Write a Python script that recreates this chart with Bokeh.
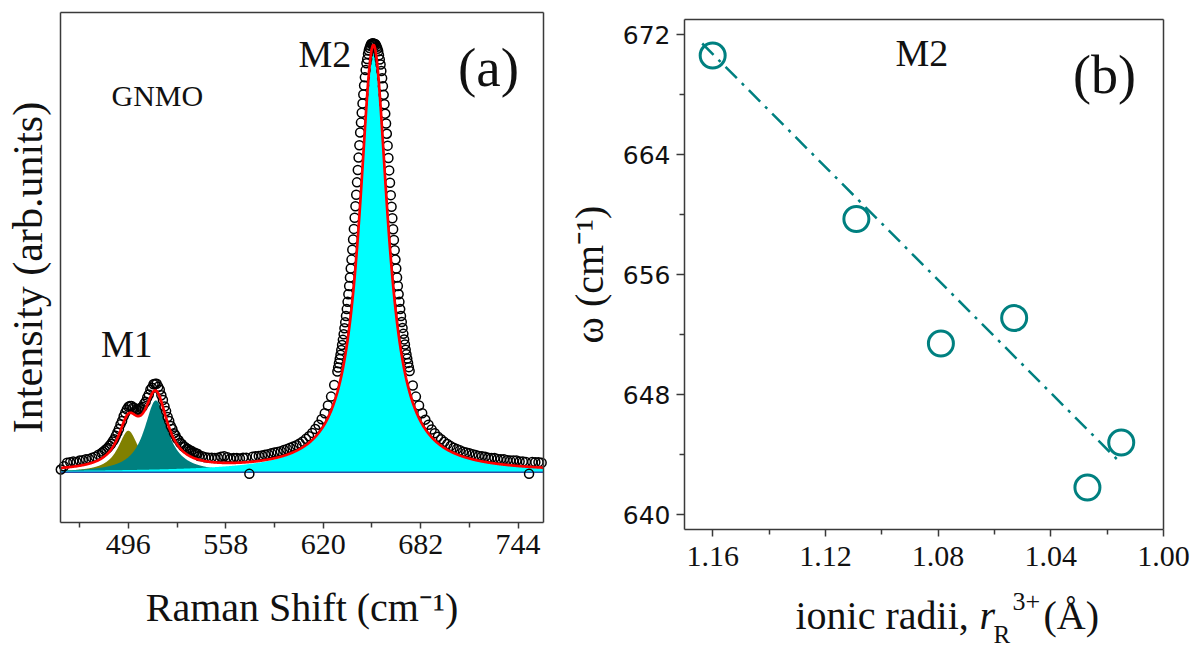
import numpy as np
from bokeh.plotting import figure
from bokeh.models import Range1d, FixedTicker, Label, PrintfTickFormatter, LinearAxis
from bokeh.embed import file_html
from bokeh.resources import INLINE

# ---------------- Panel (a): Raman spectrum of GNMO ----------------
# measured intensities (arb. units), read off the picture region by region
shift_a = np.arange(453, 480, 2)
int_a = [0.006, 0.014, 0.022, 0.023, 0.025, 0.024, 0.027, 0.028, 0.030, 0.031,
         0.034, 0.036, 0.041, 0.045]

shift_b = np.arange(480, 541, 1)
int_b = [0.048, 0.051, 0.054, 0.057, 0.062, 0.066, 0.072, 0.077, 0.085, 0.093,
         0.101, 0.112, 0.120, 0.131, 0.139, 0.147, 0.153, 0.155, 0.155, 0.151,
         0.150, 0.147, 0.146, 0.148, 0.151, 0.153, 0.160, 0.165, 0.175, 0.182,
         0.193, 0.198, 0.206, 0.207, 0.207, 0.200, 0.193, 0.180, 0.169, 0.154,
         0.143, 0.129, 0.120, 0.108, 0.101, 0.091, 0.086, 0.078, 0.075, 0.068,
         0.066, 0.060, 0.059, 0.054, 0.054, 0.050, 0.050, 0.046, 0.046, 0.043,
         0.043]

shift_c = np.arange(541, 628, 2)
int_c = [0.038, 0.037, 0.035, 0.034, 0.034, 0.033, 0.034, 0.036, 0.037, 0.035,
         0.032, 0.033, 0.033, 0.032, 0.034, 0.034, -0.004, 0.036, 0.037, 0.038,
         0.039, 0.041, 0.042, 0.044, 0.046, 0.047, 0.049, 0.052, 0.054, 0.057,
         0.060, 0.063, 0.067, 0.072, 0.078, 0.084, 0.092, 0.101, 0.111, 0.124,
         0.138, 0.156, 0.177, 0.204]

shift_d = np.arange(629, 675.5, 0.5)
int_d = [0.236, 0.245, 0.255, 0.265, 0.275, 0.286, 0.298, 0.310, 0.323, 0.337,
         0.351, 0.366, 0.382, 0.399, 0.417, 0.436, 0.456, 0.477, 0.498, 0.521,
         0.545, 0.570, 0.596, 0.623, 0.650, 0.679, 0.708, 0.737, 0.766, 0.796,
         0.819, 0.842, 0.864, 0.885, 0.906, 0.925, 0.942, 0.958, 0.968, 0.980,
         0.988, 0.994, 0.999, 1.003, 1.004, 1.005,
         1.004,
         1.004, 1.003, 1.001, 0.997, 0.992, 0.986, 0.977, 0.967, 0.955, 0.940,
         0.923, 0.904, 0.884, 0.862, 0.840, 0.817, 0.793, 0.765, 0.736, 0.707,
         0.678, 0.649, 0.622, 0.595, 0.569, 0.544, 0.520, 0.498, 0.477, 0.456,
         0.436, 0.417, 0.399, 0.382, 0.366, 0.352, 0.338, 0.324, 0.311, 0.299,
         0.287, 0.276, 0.266, 0.256, 0.246, 0.237]

shift_e = np.arange(677, 760, 2)
int_e = [0.203, 0.177, 0.156, 0.138, 0.123, 0.111, 0.100, 0.091, 0.083, 0.077,
         0.071, 0.066, 0.061, 0.057, 0.054, 0.051, 0.048, 0.046, 0.044, 0.042,
         0.040, 0.038, 0.037, 0.036, 0.034, 0.033, 0.033, 0.031, 0.030, 0.030,
         0.028, 0.027, 0.027, 0.027, 0.025, 0.025, 0.024, -0.004, 0.024, 0.023,
         0.023, 0.022]

# Lorentzian fit components: centre (cm-1), height, half width
peak_centres = [496.0, 513.5, 652.0]
peak_heights = [0.097, 0.168, 1.0]
peak_hwhm = [8.0, 9.0, 11.0]
peak_colors = ["#808000", "#008080", "#00ffff"]

shift_lo, shift_hi = 453, 760
inten_lo, inten_hi = -0.118, 1.077
x_ticks_a = [496, 558, 620, 682, 744]
x_minor_a = [465, 527, 589, 651, 713]

# ---------------- Panel (b): M2 frequency vs ionic radius ----------------
radii = [1.160, 1.109, 1.079, 1.053, 1.027, 1.015]
omega = [670.6, 659.7, 651.4, 653.1, 641.8, 644.8]
fit_radii = [1.1637, 1.0166]
fit_omega = [671.4, 643.7]

radius_lo, radius_hi = 1.00, 1.17
omega_lo, omega_hi = 639, 673
x_ticks_b = [1.16, 1.12, 1.08, 1.04, 1.00]
x_minor_b = [1.14, 1.10, 1.06, 1.02]
y_ticks_b = [640, 648, 656, 664, 672]
y_minor_b = [644, 652, 660, 668]

# ---------------- layout (pixels on the 1192 x 653 page) ----------------
W, H = 1192, 653
BOX_A = (60.3, 542.7, 12.0, 522.0)   # left, right, top, bottom
BOX_B = (684.0, 1163.0, 19.0, 529.0)
BASELINE_SHIFT = 0.39                 # em correction so labels sit on the wanted baseline

SERIF = "Liberation Serif"
DARK = "#3a3a3a"
TXT = "#111111"


def span_range(v_at_a, v_at_b, pa_, pb_, full):
    """Range over the whole page so that value v_at_a sits at pixel pa_ and v_at_b at pb_."""
    k = (pb_ - pa_) / (v_at_b - v_at_a)
    return Range1d(v_at_a - pa_ / k, v_at_a + (full - pa_) / k)


# x: pixels from the left; y: pixels from the bottom
xr_a = span_range(shift_lo, shift_hi, BOX_A[0], BOX_A[1], W)
yr_a = span_range(inten_lo, inten_hi, H - BOX_A[3], H - BOX_A[2], H)
xr_b = span_range(radius_hi, radius_lo, BOX_B[0], BOX_B[1], W)
yr_b = span_range(omega_lo, omega_hi, H - BOX_B[3], H - BOX_B[2], H)

p = figure(width=W, height=H, x_range=xr_a, y_range=yr_a, output_backend="svg",
           toolbar_location=None, title=None, x_axis_location=None, y_axis_location=None,
           min_border=0)
p.extra_x_ranges = {"xb": xr_b}
p.extra_y_ranges = {"yb": yr_b}
p.outline_line_color = None
p.grid.visible = False
p.background_fill_color = "white"
p.border_fill_color = "white"


def add_text(x, y, text, size, align="left", style="normal", font=SERIF):
    y_req = y - BASELINE_SHIFT * size
    p.add_layout(Label(x=x, y=H - y_req, x_units="screen", y_units="screen", text=text,
                       text_font=font, text_font_size=f"{size}px", text_align=align,
                       text_baseline="alphabetic", text_color=TXT,
                       text_font_style=style))


def make_axis(side, loc, bounds, ticks=(), minor=(), tick_out=0, minor_out=0,
              font=SERIF, size="30px", standoff=6, rng=("default", "default")):
    a = LinearAxis(x_range_name=rng[0], y_range_name=rng[1], fixed_location=loc,
                   bounds=bounds, ticker=FixedTicker(ticks=list(ticks), minor_ticks=list(minor)))
    a.axis_line_color = DARK
    a.axis_line_width = 1.5
    a.major_tick_line_color = DARK
    a.minor_tick_line_color = DARK
    a.major_tick_line_width = 1.5
    a.minor_tick_line_width = 1.5
    a.major_tick_out = tick_out
    a.major_tick_in = 0
    a.minor_tick_out = minor_out
    a.minor_tick_in = 0
    a.major_label_text_font = font
    a.major_label_text_font_size = size if ticks else "0px"
    a.major_label_text_color = TXT
    a.major_label_standoff = standoff
    a.axis_label_text_font = SERIF
    a.axis_label_text_font_style = "normal"
    a.axis_label_text_color = TXT
    p.add_layout(a, side)
    return a


# ----- panel (a)
xf = np.linspace(shift_lo, shift_hi, 1600)
comps = [h / (1.0 + ((xf - c) / w) ** 2) for c, h, w in zip(peak_centres, peak_heights, peak_hwhm)]
for comp, col in zip(comps, peak_colors):
    p.varea(x=xf, y1=np.zeros_like(xf), y2=comp, fill_color=col, fill_alpha=1.0)
p.line(xf, np.zeros_like(xf), line_color="#2d4fa8", line_width=1.5)

shift_all = np.concatenate([shift_a, shift_b, shift_c, shift_d, shift_e])
int_all = np.array(int_a + int_b + int_c + int_d + int_e)
n = min(len(shift_all), len(int_all))
p.scatter(shift_all[:n], int_all[:n], marker="circle", size=9, fill_color=None,
          line_color="black", line_width=1.5)
p.line(xf, sum(comps), line_color="#ff0000", line_width=2.7)

ax = make_axis("below", inten_lo, (shift_lo, shift_hi), x_ticks_a, x_minor_a, 6, 5,
               SERIF, "30px", 6)
ax.axis_label = "Raman Shift (cm\u207b\u00b9)"
ax.axis_label_text_font_size = "40px"
ax.axis_label_standoff = 28
ay = make_axis("left", shift_lo, (inten_lo, inten_hi), standoff=0)
ay.axis_label = "Intensity (arb.units)"
ay.axis_label_text_font_size = "42px"
ay.axis_label_standoff = 10
make_axis("above", inten_hi, (shift_lo, shift_hi), standoff=0)
make_axis("right", shift_hi, (inten_lo, inten_hi), standoff=0)

add_text(298, 68, "M2", 38)
add_text(488, 88, "(a)", 55, align="center")
add_text(111, 107, "GNMO", 30)
add_text(100.5, 358, "M1", 37)

# ----- panel (b)
p.line(fit_radii, fit_omega, x_range_name="xb", y_range_name="yb", line_color="#008080",
       line_width=2.5, line_dash="16 7 3 7")
p.scatter(radii, omega, x_range_name="xb", y_range_name="yb", marker="circle", size=25,
          fill_color=None, line_color="#008080", line_width=3)

RB = ("xb", "yb")
bx = make_axis("below", omega_lo, (radius_lo, radius_hi), x_ticks_b, x_minor_b, 7, 5,
               SERIF, "30px", 10, rng=RB)
bx.formatter = PrintfTickFormatter(format="%.2f")
by = make_axis("left", radius_hi, (omega_lo, omega_hi), y_ticks_b, y_minor_b, 8, 5,
               "DejaVu Sans", "25px", 6, rng=RB)
by.axis_label = "\u03c9 (cm\u207b\u00b9)"
by.axis_label_text_font_size = "40px"
by.axis_label_standoff = 8
make_axis("above", omega_hi, (radius_lo, radius_hi), standoff=0, rng=RB)
make_axis("right", radius_lo, (omega_lo, omega_hi), standoff=0, rng=RB)

add_text(895, 67, "M2", 38)
add_text(1104, 96, "(b)", 54, align="center")
add_text(795, 631, "ionic radii,", 40)
add_text(979, 631, "r", 40, style="italic")
add_text(993, 644, "R", 25)
add_text(1012, 611, "3+", 26)
add_text(1043, 631, "(\u00c5)", 40)

open("out.html", "w").write(file_html(p, INLINE))
